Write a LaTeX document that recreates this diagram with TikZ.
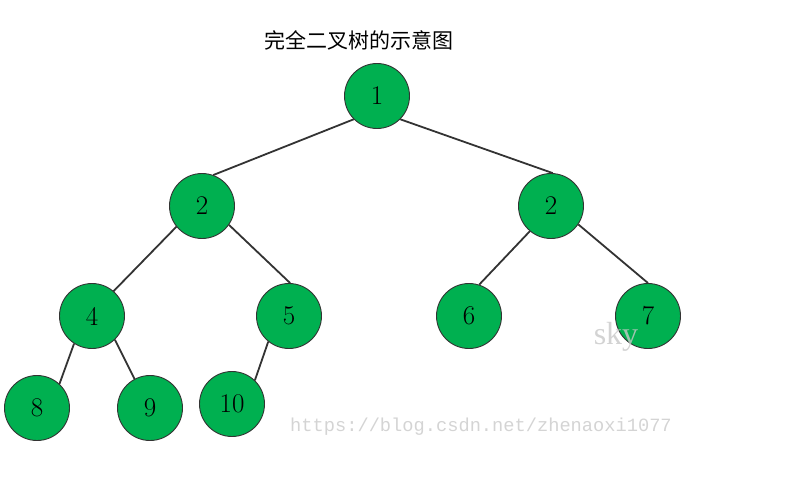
\documentclass[tikz,border=0pt]{standalone}
\usepackage{fontspec}
\newfontfamily\cjk{Noto Sans CJK SC}
\newfontfamily\wmono{Liberation Mono}
\newfontfamily\wserif{Liberation Serif}
\definecolor{nodegreen}{HTML}{00B050}
\definecolor{edgegray}{HTML}{333333}
\definecolor{wmgray}{HTML}{D4D4D4}
\definecolor{skygray}{HTML}{C8C8C8}
\begin{document}
\begin{tikzpicture}[x=1pt,y=-1pt,
  tnode/.style={circle,draw=edgegray,line width=0.9pt,fill=nodegreen,minimum size=65pt,inner sep=0pt,font=\fontsize{27}{30}\selectfont},
  tedge/.style={draw=edgegray,line width=1.8pt}]
\useasboundingbox (0,0) rectangle (792,503);
\node (title) at (359,40) {\cjk\fontsize{21}{24}\selectfont 完全二叉树的示意图};
\node[tnode] (n1) at (377,96) {1};
\node[tnode] (n2a) at (202,206) {2};
\node[tnode] (n2b) at (551,206) {2};
\node[tnode] (n4) at (92,316) {4};
\node[tnode] (n5) at (289,316) {5};
\node[tnode] (n6) at (469,316) {6};
\node[tnode] (n7) at (648,316) {7};
\node[tnode] (n8) at (37,408) {8};
\node[tnode] (n9) at (150,408) {9};
\node[tnode] (n10) at (232,404) {10};
\draw[tedge] (n1.225) -- (n2a.70);
\draw[tedge] (n1.315) -- (n2b.87);
\draw[tedge] (n2a.219) -- (n4.49);
\draw[tedge] (n2a.325) -- (n5.88);
\draw[tedge] (n2b.230) -- (n6.72);
\draw[tedge] (n2b.326) -- (n7.90);
\draw[tedge] (n4.237) -- (n8.47);
\draw[tedge] (n4.314) -- (n9.118);
\draw[tedge] (n5.231) -- (n10.46);
\node[text=skygray,opacity=0.8,font=\wserif\fontsize{32}{34}\selectfont] (sky) at (616,337) {sky};
\node[text=wmgray,font=\wmono\fontsize{18.7}{20}\selectfont] (url) at (481,427) {https://blog.csdn.net/zhenaoxi1077};
\end{tikzpicture}
\end{document}
